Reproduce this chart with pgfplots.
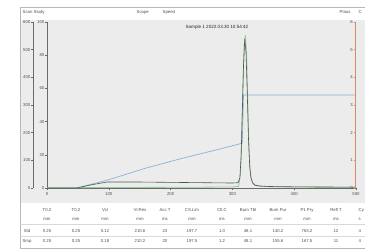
\documentclass[border=0pt]{standalone}
\usepackage{pgfplots}
\pgfplotsset{compat=1.18}
\usepackage{fontspec}
\setmainfont{Liberation Sans}
\definecolor{bggray}{HTML}{ECECEC}
\definecolor{framegray}{HTML}{B8B8B8}
\definecolor{axgray}{HTML}{6A6A6A}
\definecolor{trdark}{HTML}{4E5A4E}
\definecolor{trlight}{HTML}{9CC79C}
\definecolor{blueln}{HTML}{8DB0DA}
\definecolor{orangeln}{HTML}{D98A66}
\definecolor{txt}{HTML}{505050}
\begin{document}
\begin{tikzpicture}[x=1bp,y=1bp,font=\fontsize{4.3}{5}\selectfont,text=txt,every node/.style={inner sep=0.5bp}]
\useasboundingbox (0,0) rectangle (365,249);
\fill[white] (0,0) rectangle (365,249);
% screenshot frame
\fill[white] (20,242) rectangle (365,229);
\fill[bggray] (20,229) rectangle (365,46);
\fill[white] (20,46) rectangle (365,1);
\draw[framegray,line width=0.6bp] (20.3,1) -- (20.3,242) -- (366,242);
\draw[framegray,line width=0.6bp] (20.3,1) -- (366,1);
% top strip
\node[anchor=west] at (22,237) {Scan Study};
\node[anchor=west] at (136,237) {Scope};
\node[anchor=west] at (162,237) {Speed};
\node[anchor=west] at (339,237) {Plaus};
\node[anchor=west] at (358,237) {C};
% table lines
\draw[gray!30,line width=0.4bp] (20,25) -- (365,25);
\draw[gray!30,line width=0.4bp] (20,13) -- (365,13);
% table text
\foreach \cx/\ha/\hb/\va/\vb in {47/T0.2/mm/0.25/0.25, 76/T0.2/mm/0.25/0.25, 105/Vcl/mm/0.12/0.18, 140/Vl.Res/mm/210.6/210.2, 165/Acc T/ms/23/20, 192/CS.Lim/mm/197.7/197.5, 222/Clt.C/ms/1.0/1.2, 248/Burn Tbl/mm/48.1/48.1, 278/Burn Pur/mm/140.2/155.6, 307/P1 Pry/mm/763.2/167.5, 336/Refl T/ms/12/11}{
  \node at (\cx,39) {\ha};
  \node at (\cx,30) {\hb};
  \node at (\cx,18) {\va};
  \node at (\cx,7.5) {\vb};
}
\node[anchor=west] at (358,39) {Cy};
\node[anchor=west] at (358,30) {s};
\node[anchor=west] at (358,18) {4};
\node[anchor=west] at (358,7.5) {4};
\node at (27,18) {Std};
\node at (27,7.5) {Smp};
% main axis
\begin{axis}[
  at={(47bp,61bp)}, anchor=origin, scale only axis,
  width=309bp, height=166bp,
  xmin=0, xmax=500, ymin=0, ymax=100,
  axis x line*=bottom, axis y line*=left,
  axis line style={axgray,line width=0.5bp,-},
  xtick={0,100,...,500}, ytick={0,20,...,100},
  tick style={axgray,line width=0.4bp}, major tick length=2bp,
  tick align=outside,
  ticklabel style={font=\fontsize{4.3}{5}\selectfont,text=txt},
  /pgf/number format/assume math mode=true,
  xticklabel style={yshift=-2bp},
  clip=false,
  title={Sample 1 2022.03.30 10:54:42},
  title style={at={(0.55,0.93)},anchor=center,font=\fontsize{4.6}{5}\selectfont,text=black!85},
]
\addplot[blueln,line width=0.7bp] coordinates {(48,0) (100,5) (160,12) (220,18) (280,23.5) (316,27) (318,56) (500,56)};
\addplot[trlight,line width=0.8bp] coordinates {(0,0.2) (48,0.2) (100,0.3) (200,0.4) (300,0.6) (310,1) (313,8) (315,30) (317,62) (319,86) (321,92) (323,80) (325,50) (327,22) (329,9) (332,3.5) (336,1.8) (345,1.0) (380,0.6) (450,0.5) (500,0.4)};
\addplot[trdark,line width=0.6bp] coordinates {(0,0) (48,0) (70,1.8) (97,3.6) (150,3.6) (200,3.4) (250,3.2) (300,3.0) (309,3.2) (312,6) (314,18) (316,45) (318,74) (320,90) (322,82) (324,58) (326,30) (328,13) (330,6) (333,3) (337,1.6) (345,1.2) (360,0.9) (400,0.7) (450,0.6) (500,0.5)};
\end{axis}
% outer left axis
\begin{axis}[
  at={(33bp,61bp)}, anchor=origin, scale only axis,
  width=1bp, height=166bp,
  xmin=0, xmax=1, ymin=0, ymax=600,
  axis y line*=left, axis x line=none,
  axis line style={axgray,line width=0.5bp,-},
  ytick={0,100,...,600},
  tick style={axgray,line width=0.4bp}, major tick length=2bp, tick align=outside,
  ticklabel style={font=\fontsize{4.3}{5}\selectfont,text=txt},
  /pgf/number format/assume math mode=true,
]
\addplot[draw=none] coordinates {(0,0) (1,600)};
\end{axis}
% right axis
\begin{axis}[
  at={(355bp,61bp)}, anchor=origin, scale only axis,
  width=1bp, height=166bp,
  xmin=0, xmax=1, ymin=0, ymax=6,
  axis y line*=left, axis x line=none,
  axis line style={orangeln,line width=0.7bp,-},
  yticklabel pos=right,
  ytick={0,1,...,6},
  tick style={orangeln,line width=0.4bp}, major tick length=1.5bp, tick align=outside,
  ticklabel style={font=\fontsize{4.3}{5}\selectfont,text=txt,inner sep=0.5bp},
  /pgf/number format/assume math mode=true,
]
\addplot[draw=none] coordinates {(0,0) (1,6)};
\end{axis}
\end{tikzpicture}
\end{document}
